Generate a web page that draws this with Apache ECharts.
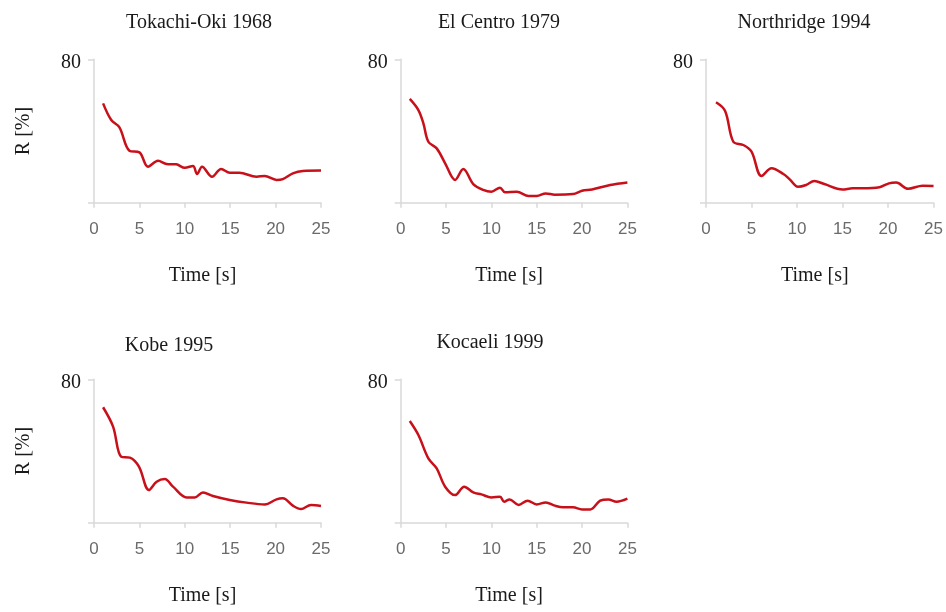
<!DOCTYPE html>
<html>
<head>
<meta charset="utf-8">
<script src="https://cdn.jsdelivr.net/npm/echarts@6/dist/echarts.min.js"></script>
<style>html,body{margin:0;padding:0;background:#fff}#c{width:946px;height:612px}</style>
</head>
<body>
<div id="c"></div>
<script>
// ---- data ----
const titles = ["Tokachi-Oki 1968", "El Centro 1979", "Northridge 1994", "Kobe 1995", "Kocaeli 1999"];
const xTicks = [0, 5, 10, 15, 20, 25];
const yTickLabel = "80";

const tokachiT = [1, 1.9, 2.8, 3.9, 5.0, 5.95, 7.05, 8.0, 9.05, 10.0, 10.9, 11.35, 11.9, 13.0, 14.0, 14.95, 16.0, 17.9, 18.8, 20.1, 20.8, 21.9, 23.0, 25];
const tokachiR = [55.4, 46.1, 42.0, 29.0, 28.1, 20.1, 23.4, 21.6, 21.4, 19.5, 20.5, 16.0, 20.1, 14.5, 18.8, 16.7, 16.7, 14.5, 14.9, 12.7, 13.2, 16.4, 17.7, 17.9];

const elcentroT = [1, 1.95, 2.5, 3.05, 3.97, 4.9, 6.0, 6.9, 8.0, 9.1, 10.0, 10.95, 11.5, 12.8, 14.1, 15.0, 16.0, 17.0, 19.0, 20.0, 21.1, 23.1, 25];
const elcentroR = [57.9, 51.7, 44.3, 34.0, 30.3, 22.0, 12.7, 18.8, 10.4, 7.1, 6.1, 8.4, 5.8, 6.1, 3.7, 3.7, 5.2, 4.5, 4.8, 6.7, 7.4, 9.9, 11.3];

const northridgeT = [1.1, 2.1, 3.0, 4.1, 5.0, 6.1, 7.2, 8.5, 9.2, 10.1, 11.0, 11.9, 13.0, 15.0, 16.1, 17.2, 19.05, 20.1, 20.9, 22.2, 23.8, 25];
const northridgeR = [56.0, 51.2, 34.0, 32.2, 28.5, 14.9, 19.2, 16.0, 13.0, 8.9, 9.9, 12.1, 10.4, 7.4, 8.0, 8.0, 8.6, 10.8, 11.2, 7.8, 9.5, 9.3];

const kobeT = [1, 2.1, 3.0, 3.95, 4.95, 6.05, 6.9, 7.8, 8.7, 10.2, 11.1, 12.0, 13.1, 14.95, 16.8, 18.8, 20.1, 20.8, 21.9, 22.8, 23.9, 25];
const kobeR = [64.4, 53.6, 36.8, 36.3, 31.3, 18.2, 22.9, 24.4, 20.1, 14.1, 14.1, 16.9, 14.9, 12.7, 11.2, 10.2, 13.0, 13.6, 9.5, 7.6, 9.9, 9.3];

const kocaeliT = [1, 1.95, 3.05, 3.97, 4.9, 6.0, 7.0, 8.0, 8.9, 10.0, 10.95, 11.4, 12.0, 13.0, 14.0, 15.0, 16.0, 17.0, 17.9, 19.0, 20.0, 20.9, 22.0, 22.9, 23.8, 25];
const kocaeliR = [56.7, 48.9, 35.9, 30.3, 20.1, 15.4, 20.1, 16.9, 15.8, 14.1, 14.5, 11.7, 13.0, 9.9, 12.3, 10.2, 11.3, 9.5, 8.6, 8.6, 7.4, 7.4, 12.3, 13.0, 11.7, 13.4];

const seriesT = [tokachiT, elcentroT, northridgeT, kobeT, kocaeliT];
const seriesR = [tokachiR, elcentroR, northridgeR, kobeR, kocaeliR];

// ---- layout ----
const grids = [
  {left: 94, top: 59.3, width: 227, height: 143.4},
  {left: 400.7, top: 59.3, width: 226.7, height: 143.4},
  {left: 706, top: 59.3, width: 228.3, height: 143.4},
  {left: 94, top: 379.3, width: 227, height: 143.4},
  {left: 400.7, top: 379.3, width: 226.7, height: 143.4}
];
const titlePos = [[199, 13], [499, 13], [804, 13], [169, 336], [490, 333]];
const showYName = [true, false, false, true, false];

const serif = "'Liberation Serif', 'Times New Roman', serif";
const sans = "'Liberation Sans', Arial, sans-serif";
const axisGray = '#d9d9d9';

const option = {
  animation: false,
  backgroundColor: '#ffffff',
  title: titles.map((t, i) => ({
    text: t,
    left: titlePos[i][0] - 5,
    top: titlePos[i][1] - 5,
    textAlign: 'center',
    textStyle: {fontFamily: serif, fontSize: 20, fontWeight: 'normal', color: '#1a1a1a'}
  })),
  grid: grids,
  xAxis: grids.map((g, i) => ({
    type: 'value', gridIndex: i, min: xTicks[0], max: xTicks[xTicks.length - 1], interval: 5,
    name: 'Time [s]', nameLocation: 'middle', nameGap: 63,
    nameTextStyle: {fontFamily: serif, fontSize: 20, color: '#1a1a1a', padding: [0, 10, 0, 0]},
    axisLine: {show: true, lineStyle: {color: axisGray, width: 1.5}},
    axisTick: {show: true, length: 5, lineStyle: {color: axisGray, width: 1.5}},
    axisLabel: {fontFamily: sans, fontSize: 17, color: '#6a6a6a', margin: 18},
    splitLine: {show: false}
  })),
  yAxis: grids.map((g, i) => ({
    type: 'value', gridIndex: i, min: 0, max: 80, interval: 80,
    name: showYName[i] ? 'R [%]' : '', nameLocation: 'middle', nameGap: 60, nameRotate: 90,
    nameTextStyle: {fontFamily: serif, fontSize: 20, color: '#1a1a1a'},
    axisLine: {show: true, lineStyle: {color: axisGray, width: 1.5}},
    axisTick: {show: true, length: 6, lineStyle: {color: axisGray, width: 1.5}},
    axisLabel: {
      margin: 13,
      formatter: v => (String(v) === yTickLabel ? '{a|' + yTickLabel + '}' : ''),
      rich: {a: {fontFamily: serif, fontSize: 20, color: '#1a1a1a', padding: [7, 0, 0, 0]}}
    },
    splitLine: {show: false}
  })),
  series: seriesT.map((ts, i) => ({
    type: 'line', xAxisIndex: i, yAxisIndex: i,
    data: ts.map((t, k) => [t, seriesR[i][k]]),
    smooth: 0.35, showSymbol: false, symbol: 'none',
    lineStyle: {color: '#c8101a', width: 2.5}
  }))
};

const chart = echarts.init(document.getElementById('c'), null, {renderer: 'canvas'});
chart.setOption(option);
</script>
</body>
</html>
